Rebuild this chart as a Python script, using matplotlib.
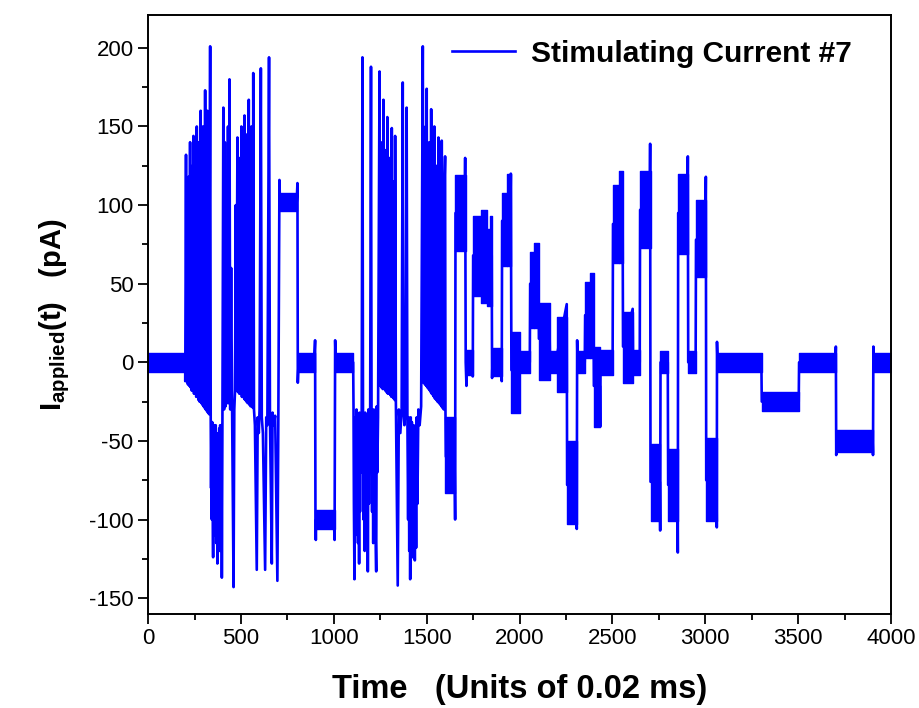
import matplotlib
matplotlib.use("Agg")
import matplotlib.pyplot as plt
from matplotlib.ticker import MultipleLocator

# signal trace: (time, current) key points, in order
rest_a = [(0, 0), (200, 0)]
burst_1 = [(200, -12), (204, 132), (207, -12), (211, 105), (214, -14), (218, 118), (221, -15),
           (226, 140), (229, -16), (232, 110), (235, -18), (239, 125), (241, -18), (244, 144),
           (247, -20), (250, 115), (253, -20), (256, 135), (259, -22), (262, 150), (265, -22),
           (268, 120), (271, -24), (274, 140), (277, -25), (283, 160), (286, -26), (289, 125),
           (292, -27), (295, 150), (298, -28), (301, 130), (304, -29), (307, 173), (310, -30),
           (313, 140), (316, -31), (319, 160), (322, -32), (325, 120), (328, -33), (334, 201),
           (337, -35), (339, -80), (341, -40), (343, -100), (345, -38), (347, -70), (350, -124),
           (352, -42), (354, -95), (356, -40), (358, -110), (360, -45), (362, -80), (364, -40),
           (367, -115), (369, -45), (371, -90), (373, -128), (375, -48), (377, -105), (379, -45),
           (381, -85), (383, -42), (386, -120), (388, -40), (390, -95), (392, -45), (394, -110),
           (395, -40), (397, -137), (400, -40), (405, 162), (409, -30), (413, 140), (417, -28),
           (421, 110), (425, -26), (430, 150), (434, -26), (438, 180), (442, -30), (447, 60),
           (452, -28), (460, -143), (464, -30)]
burst_2 = [(468, -18), (472, 100), (475, -18), (481, 143), (484, -19), (488, 110), (491, -20),
           (495, 130), (498, -20), (502, 150), (505, -22), (509, 115), (512, -22), (515, 135),
           (517, -23), (519, 157), (522, -24), (526, 120), (529, -25), (533, 145), (536, -26),
           (542, 167), (545, -27), (549, 130), (552, -28), (556, 150), (559, -28), (562, 110),
           (564, -29), (566, 184), (570, -30), (575, -40), (585, -132), (590, -35), (596, -45),
           (600, -30), (607, 187), (612, -35), (618, -45), (630, -132), (636, -35), (642, -40),
           (651, 194), (656, -35), (666, -128), (670, -32), (676, -40), (684, -34), (696, -139),
           (701, -40), (707, 116), (710, 102), (800, 102), (804, 114), (806, -13), (810, 0),
           (894, 0), (899, 14), (901, -100), (903, -113), (905, -100), (1000, -100),
           (1004, -113), (1007, 14), (1010, 0), (1104, 0)]
burst_3 = [(1106, -30), (1108, -90), (1111, -138), (1113, -40), (1115, -110), (1117, -35),
           (1120, -80), (1122, -30), (1124, -100), (1127, -35), (1130, -115), (1133, -40),
           (1136, -128), (1138, -32), (1141, -95), (1144, -40), (1147, -70), (1150, -30),
           (1154, 194), (1157, -30), (1160, -100), (1163, -45), (1166, -120), (1169, -32),
           (1172, -85), (1175, -45), (1178, -110), (1181, -40), (1183, -133), (1186, -30),
           (1189, -90), (1192, -40), (1195, -60), (1200, 188), (1203, -30), (1206, -95),
           (1209, -40), (1212, -115), (1215, -30), (1218, -80), (1221, -40), (1224, -105),
           (1228, -133), (1231, -28), (1234, -70), (1238, -35), (1246, 185), (1249, -15),
           (1253, 120), (1256, -16), (1260, 140), (1263, -17), (1267, 167), (1270, -17),
           (1274, 110), (1277, -18), (1281, 135), (1284, -19), (1288, 156), (1291, -20),
           (1295, 105), (1298, -20), (1302, 130), (1305, -21), (1308, 90), (1310, -22),
           (1312, 149), (1315, -22), (1319, 115), (1322, -23), (1326, 95), (1328, -24),
           (1330, 144), (1334, -25), (1344, -142), (1350, -30), (1358, -45), (1365, -30),
           (1371, 178), (1375, -30), (1380, -40), (1386, -28), (1392, 162), (1396, -35),
           (1400, -100), (1403, -35), (1406, -120), (1409, -40), (1411, -138), (1414, -35),
           (1417, -110), (1420, -38), (1423, -124), (1426, -40), (1429, -115), (1432, -42),
           (1436, -126), (1439, -40), (1443, -118), (1446, -35), (1450, -90), (1455, -30),
           (1462, -40), (1470, -28), (1479, 201)]
burst_4 = [(1483, -13), (1487, 120), (1490, -14), (1494, 150), (1497, -15), (1500, 174),
           (1503, -16), (1507, 125), (1510, -17), (1514, 140), (1517, -18), (1520, 105),
           (1522, -19), (1524, 161), (1527, -20), (1531, 120), (1534, -21), (1538, 130),
           (1539, -22), (1541, 150), (1544, -23), (1548, 110), (1551, -24), (1555, 125),
           (1558, -25), (1563, 143), (1566, -26), (1570, 100), (1573, -27), (1577, 120),
           (1579, -28), (1581, 141), (1585, -29), (1589, 105), (1592, -30), (1596, 115),
           (1599, 131), (1601, -31)]
steps = [(1603, -60), (1650, -60), (1653, -100), (1655, 95), (1705, 95), (1707, 130),
         (1710, 0), (1714, -15), (1716, 0), (1746, 0), (1748, -9), (1750, 68), (1850, 68),
         (1852, -10), (1854, 0), (1902, 0), (1904, -12), (1906, 90), (1950, 90), (1953, 120),
         (1956, -5), (2001, -5), (2003, 0), (2055, 0), (2057, 50), (2102, 50), (2104, 15),
         (2162, 15), (2164, 0), (2200, 0), (2202, 5), (2254, 37), (2256, -78), (2306, -78),
         (2308, -106), (2310, 14), (2312, 0), (2351, 0), (2353, 30), (2398, 30), (2400, -15),
         (2432, -15), (2434, -41), (2436, 0), (2501, 0), (2503, 88), (2555, 88), (2557, 10),
         (2609, 34), (2611, 0), (2647, 0), (2649, 97), (2701, 97), (2703, 139), (2705, -76),
         (2755, -76), (2757, -107), (2759, 0), (2798, 0), (2800, -78), (2850, -78),
         (2852, -121), (2854, 95), (2904, 95), (2906, 131), (2908, 0), (2948, 0), (2950, 78),
         (3000, 78), (3003, 118), (3005, -75), (3060, -75), (3062, -105), (3063, 13),
         (3066, 0), (3302, 0), (3304, -25), (3503, -25), (3505, 0), (3701, 0), (3703, 10),
         (3705, -59), (3707, -50), (3901, -50), (3903, -59), (3905, 10), (3907, 0), (4000, 0)]

# noisy plateaus and dense blocks: (t_start, t_end, low, high)
bands = [(0, 200, -6, 6), (707, 804, 96, 108), (806, 899, -6, 6), (901, 1005, -106, -94),
         (1007, 1104, -6, 6), (1601, 1653, -83, -35), (1655, 1710, 71, 119),
         (1712, 1748, -8, 8), (1748, 1790, 42, 93), (1790, 1822, 38, 97), (1822, 1840, 36, 85),
         (1840, 1852, 36, 93), (1852, 1904, -9, 9), (1906, 1935, 61, 108), (1935, 1956, 61, 120),
         (1956, 2003, -32, 19), (2003, 2057, -7, 7), (2057, 2080, 22, 70), (2080, 2102, 22, 76),
         (2104, 2164, -11, 38), (2164, 2202, -7, 7), (2202, 2256, -19, 29), (2256, 2310, -103, -50),
         (2310, 2353, -7, 7), (2353, 2380, 3, 51), (2380, 2400, 3, 57), (2400, 2434, -41, 10),
         (2434, 2503, -8, 8), (2503, 2535, 63, 113), (2535, 2557, 63, 122), (2557, 2611, -13, 32),
         (2611, 2649, -8, 8), (2649, 2705, 73, 122), (2705, 2757, -101, -52), (2757, 2800, -7, 7),
         (2800, 2852, -101, -55), (2852, 2908, 69, 120), (2908, 2950, -7, 7), (2950, 3005, 54, 103),
         (3005, 3063, -101, -48), (3063, 3304, -6, 6), (3304, 3505, -31, -19), (3505, 3703, -6, 6),
         (3703, 3905, -57, -43), (3905, 4000, -6, 6)]

trace = rest_a + burst_1 + burst_2 + burst_3 + burst_4 + steps
t_vals = [p[0] for p in trace]
i_vals = [p[1] for p in trace]

plt.rcParams['font.family'] = ['Liberation Sans', 'DejaVu Sans']
plt.rcParams['mathtext.fontset'] = 'custom'
plt.rcParams['mathtext.rm'] = 'Liberation Sans'
plt.rcParams['mathtext.bf'] = 'Liberation Sans:bold'
plt.rcParams['axes.unicode_minus'] = False

fig = plt.figure(figsize=(9.2, 7.08), dpi=100)
ax = fig.add_axes([0.161, 0.133, 0.8075, 0.846])

blue = '#0000ff'
for t0, t1, lo, hi in bands:
    ax.fill_between([t0, t1], [lo, lo], [hi, hi], color=blue, linewidth=1.0, edgecolor=blue)
ax.plot(t_vals, i_vals, color=blue, linewidth=1.9, label='Stimulating Current #7')

ax.set_xlim(0, 4000)
ax.set_ylim(-160, 221)
ax.xaxis.set_major_locator(MultipleLocator(500))
ax.xaxis.set_minor_locator(MultipleLocator(250))
ax.yaxis.set_major_locator(MultipleLocator(50))
ax.yaxis.set_minor_locator(MultipleLocator(25))
ax.tick_params(which='major', direction='out', length=7, width=1.3, labelsize=16)
ax.tick_params(which='minor', direction='out', length=4, width=1.3)
for side in ['top', 'bottom', 'left', 'right']:
    ax.spines[side].set_linewidth(1.4)

ax.set_xlabel('Time   (Units of 0.02 ms)', fontsize=23.5, fontweight='bold', labelpad=18)
ax.set_ylabel(r'$\mathbf{I}_{\mathbf{applied}}\mathbf{(t)}$   (pA)', fontsize=21,
              fontweight='bold', labelpad=12)

leg = ax.legend(loc='upper left', bbox_to_anchor=(0.373, 1.003), frameon=False,
                handlelength=2.1, handletextpad=0.55,
                prop={'size': 21.5, 'weight': 'bold'})

fig.savefig('out.png', dpi=100)
